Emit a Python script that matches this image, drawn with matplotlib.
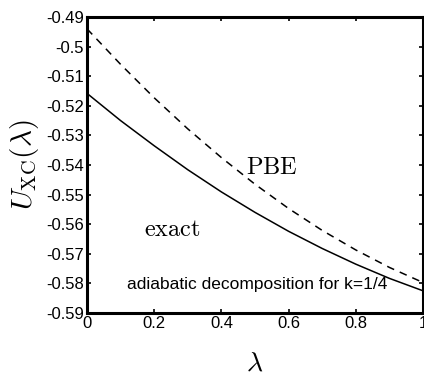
import matplotlib
matplotlib.use("Agg")
import matplotlib.pyplot as plt

lam = [0.0, 0.1, 0.2, 0.3, 0.4, 0.5, 0.6, 0.7, 0.8, 0.9, 1.0]
u_exact = [-0.5158, -0.5250, -0.5335, -0.5416, -0.5491, -0.5560,
           -0.5624, -0.5682, -0.5735, -0.5783, -0.5825]
u_pbe = [-0.4940, -0.5060, -0.5173, -0.5278, -0.5375, -0.5465,
         -0.5547, -0.5621, -0.5687, -0.5746, -0.5797]
yticks = [-0.49, -0.5, -0.51, -0.52, -0.53, -0.54, -0.55, -0.56, -0.57, -0.58, -0.59]
ytick_labels = ["-0.49", "-0.5", "-0.51", "-0.52", "-0.53", "-0.54", "-0.55",
                "-0.56", "-0.57", "-0.58", "-0.59"]
xticks = [0, 0.2, 0.4, 0.6, 0.8, 1]
xtick_labels = ["0", "0.2", "0.4", "0.6", "0.8", "1"]

plt.rcParams["mathtext.fontset"] = "cm"
plt.rcParams["font.family"] = ["Liberation Sans", "DejaVu Sans"]

fig = plt.figure(figsize=(4.24, 3.79), dpi=100)
ax = fig.add_axes([87 / 424, 1 - 313 / 379, 336 / 424, 296 / 379])

ax.plot(lam, u_exact, color="black", lw=1.1, solid_capstyle="butt")
ax.plot(lam, u_pbe, color="black", lw=1.1, dashes=(5, 4))

ax.set_xlim(0, 1)
ax.set_ylim(-0.59, -0.49)
ax.set_xticks(xticks)
ax.set_xticklabels(xtick_labels)
ax.set_yticks(yticks)
ax.set_yticklabels(ytick_labels)
ax.tick_params(direction="in", top=True, right=True, length=3, width=1.2,
               labelsize=12, pad=2)
for s in ax.spines.values():
    s.set_linewidth(2.2)

ax.set_ylabel(r"$U_{\rm XC}(\lambda)$", fontsize=21, labelpad=4)
ax.set_xlabel(r"$\lambda$", fontsize=20, labelpad=14)

ax.text(0.55, 0.49, r"$\mathrm{PBE}$", transform=ax.transAxes, fontsize=17.5,
        ha="center", va="center")
ax.text(0.253, 0.28, r"$\mathrm{exact}$", transform=ax.transAxes, fontsize=17.5,
        ha="center", va="center")
ax.text(0.506, 0.095, "adiabatic decomposition for k=1/4", transform=ax.transAxes,
        fontsize=12.5, ha="center", va="center")

fig.savefig("out.png", dpi=100)
